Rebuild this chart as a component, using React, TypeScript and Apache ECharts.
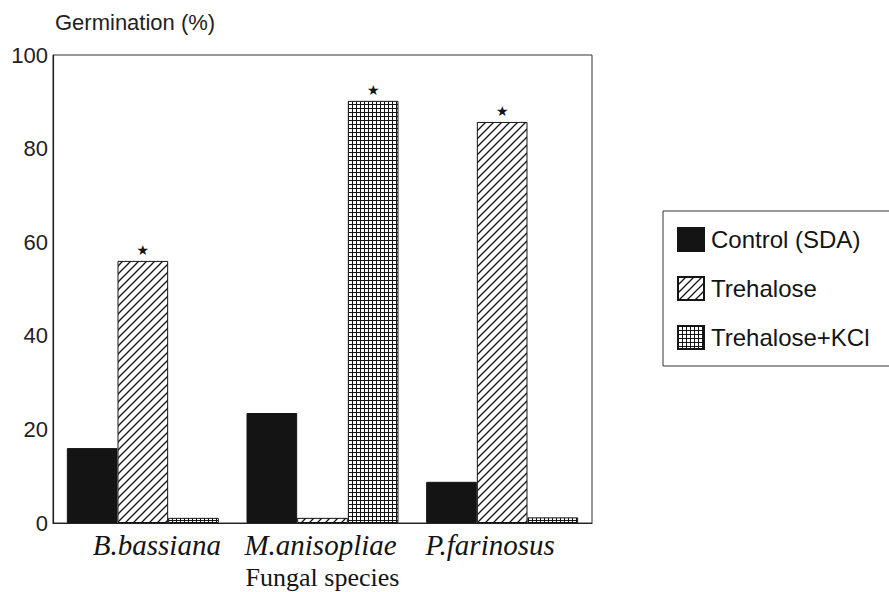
import React, { useEffect, useRef } from "react";
import * as echarts from "echarts";

const species = ["B.bassiana", "M.anisopliae", "P.farinosus"];
const seriesNames = ["Control (SDA)", "Trehalose", "Trehalose+KCl"];
const controlValues = [16, 23.5, 8.8];
const trehaloseValues = [56, 1.1, 85.7];
const trehaloseKclValues = [1.1, 90.2, 1.2];
// significant difference marks (★)
const controlSig = [false, false, false];
const trehaloseSig = [true, false, true];
const trehaloseKclSig = [false, true, false];
const yTicks = [0, 20, 40, 60, 80, 100];

const INK = "#141414";
const SANS = "'Liberation Sans', Arial, sans-serif";
const SERIF = "'Liberation Serif', 'Times New Roman', serif";

// "////" hatching tile
function makeHatch(): HTMLCanvasElement {
  const s = 8;
  const c = document.createElement("canvas");
  c.width = s;
  c.height = s;
  const ctx = c.getContext("2d")!;
  ctx.fillStyle = "#ffffff";
  ctx.fillRect(0, 0, s, s);
  ctx.strokeStyle = INK;
  ctx.lineWidth = 1.3;
  ctx.beginPath();
  ctx.moveTo(-1, s + 1);
  ctx.lineTo(s + 1, -1);
  ctx.moveTo(-2, 2);
  ctx.lineTo(2, -2);
  ctx.moveTo(s - 2, s + 2);
  ctx.lineTo(s + 2, s - 2);
  ctx.stroke();
  return c;
}

// fine square mesh tile
function makeMesh(): HTMLCanvasElement {
  const s = 4;
  const c = document.createElement("canvas");
  c.width = s;
  c.height = s;
  const ctx = c.getContext("2d")!;
  ctx.fillStyle = "#ffffff";
  ctx.fillRect(0, 0, s, s);
  ctx.fillStyle = INK;
  ctx.fillRect(0, 0, 1, s);
  ctx.fillRect(0, 0, s, 1);
  return c;
}

function withStars(values: number[], sig: boolean[]) {
  return values.map((v, i) => ({
    value: v,
    label: { show: sig[i] },
  }));
}

const starLabel = {
  position: "top" as const,
  distance: 4,
  formatter: "★",
  fontSize: 14,
  color: INK,
  fontFamily: "'DejaVu Sans', sans-serif",
};

// per-category horizontal nudges of the italic species names
const labelRich = {
  s0: { padding: [0, 0, 0, 28] },
  s1: { padding: [0, 4, 0, 0] },
  s2: { padding: [0, 24, 0, 0] },
};

export default function App() {
  const ref = useRef<HTMLDivElement>(null);

  useEffect(() => {
    if (!ref.current) return;
    const chart = echarts.init(ref.current, undefined, { renderer: "svg" });
    const hatch = { image: makeHatch(), repeat: "repeat" };
    const mesh = { image: makeMesh(), repeat: "repeat" };
    const labelFont = {
      fontFamily: SERIF,
      fontStyle: "italic",
      fontSize: 29,
      color: INK,
    };
    chart.setOption({
      animation: false,
      backgroundColor: "#ffffff",
      grid: {
        left: 53,
        top: 55,
        right: 297,
        bottom: 69,
        show: true,
        borderColor: "#333",
        borderWidth: 1,
        backgroundColor: "transparent",
        containLabel: false,
        outerBoundsMode: "none",
      },
      legend: {
        orient: "vertical",
        left: 663,
        top: 211,
        data: seriesNames,
        icon: "rect",
        itemWidth: 26,
        itemHeight: 23,
        itemGap: 24,
        padding: [16, 40, 16, 14],
        borderColor: "#333",
        borderWidth: 1,
        selectedMode: false,
        textStyle: { fontFamily: SANS, fontSize: 24, color: INK, padding: [0, 0, 0, 2] },
      },
      xAxis: {
        type: "category",
        data: species,
        axisLine: { lineStyle: { color: "#222", width: 1.2 } },
        axisTick: { show: false },
        axisLabel: {
          ...labelFont,
          interval: 0,
          hideOverlap: false,
          margin: 7,
          formatter: (v: string, i: number) => `{s${i}|${v}}`,
          rich: {
            s0: { ...labelFont, ...labelRich.s0 },
            s1: { ...labelFont, ...labelRich.s1 },
            s2: { ...labelFont, ...labelRich.s2 },
          },
        },
        name: "Fungal species",
        nameLocation: "middle",
        nameGap: 41,
        nameTextStyle: { fontFamily: SERIF, fontSize: 26, color: INK },
      },
      yAxis: {
        type: "value",
        min: yTicks[0],
        max: yTicks[yTicks.length - 1],
        interval: 20,
        splitLine: { show: false },
        axisLine: { show: true, lineStyle: { color: "#222", width: 1.2 } },
        axisTick: { show: false },
        axisLabel: { fontFamily: SANS, fontSize: 22, color: "#222", margin: 5 },
        name: "Germination (%)",
        nameLocation: "end",
        nameGap: 22,
        nameTextStyle: {
          fontFamily: SANS,
          fontSize: 22,
          color: "#222",
          align: "left",
          verticalAlign: "bottom",
          padding: [0, 0, 0, 2],
        },
      },
      series: [
        {
          name: seriesNames[0],
          type: "bar",
          barGap: "0%",
          barCategoryGap: "15.4%",
          data: withStars(controlValues, controlSig),
          itemStyle: { color: INK, borderColor: INK, borderWidth: 1 },
          label: starLabel,
        },
        {
          name: seriesNames[1],
          type: "bar",
          barGap: "0%",
          barCategoryGap: "15.4%",
          data: withStars(trehaloseValues, trehaloseSig),
          itemStyle: { color: hatch, borderColor: INK, borderWidth: 1 },
          label: starLabel,
        },
        {
          name: seriesNames[2],
          type: "bar",
          barGap: "0%",
          barCategoryGap: "15.4%",
          data: withStars(trehaloseKclValues, trehaloseKclSig),
          itemStyle: { color: mesh, borderColor: INK, borderWidth: 1 },
          label: starLabel,
        },
      ],
    });
    return () => chart.dispose();
  }, []);

  return <div ref={ref} style={{ width: 889, height: 592, position: "absolute", left: 0, top: 0 }} />;
}
